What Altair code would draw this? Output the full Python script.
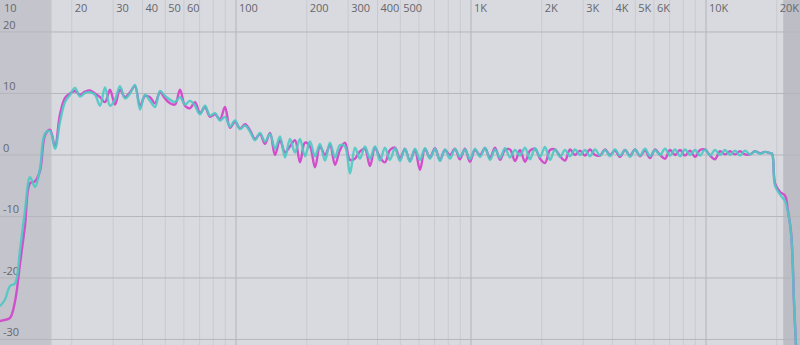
import altair as alt
import pandas as pd

# ---------------- data ----------------
FREQ = [9.90, 10.40, 10.92, 11.47, 12.04, 12.65, 13.29, 13.95, 14.65, 15.39,
        16.16, 16.97, 17.82, 18.72, 19.66, 20.64, 21.68, 22.77, 23.91, 25.11,
        26.38, 27.70, 29.09, 30.55, 32.08, 33.70, 35.39, 37.16, 39.03, 40.99,
        43.05, 45.21, 47.48, 49.86, 52.37, 55.00, 57.76, 60.66, 63.71, 66.90,
        70.27, 73.79, 77.50, 81.39, 85.47, 89.77, 94.28, 99.0, 104.0, 109.2,
        114.7, 120.4, 126.5, 132.8, 139.5, 146.5, 153.8, 161.6, 169.7, 178.2,
        187.1, 196.5, 206.4, 216.8, 227.6, 239.1, 251.1, 263.7, 276.9, 290.8,
        305.4, 320.7, 336.8, 353.7, 371.5, 390.1, 409.7, 430.3, 451.9, 474.6,
        498.4, 523.4, 549.7, 577.3, 606.3, 636.7, 668.7, 702.2, 737.5, 774.5,
        813.4, 854.2, 897.1, 942.1, 989.4, 1039, 1092, 1147, 1204, 1265,
        1329, 1395, 1465, 1539, 1616, 1697, 1782, 1872, 1966, 2064,
        2168, 2277, 2391, 2511, 2638, 2770, 2909, 3055, 3208, 3370,
        3539, 3716, 3903, 4099, 4305, 4521, 4748, 4986, 5237, 5500,
        5776, 6066, 6371, 6690, 7027, 7379, 7750, 8139, 8547, 8977,
        9428, 9900, 10400, 10920, 11470, 12040, 12650, 13290, 13950, 14650,
        15390, 16160, 16970, 17820, 18720,
        19100, 19660, 20640, 21680, 22300, 23000, 23400, 23650, 24150]

CYAN_DB = [-24.6, -23.5, -21.3, -20.9, -15.5, -9.0, -3.6, -5.2, -2.2, 3.5,
           3.9, 1.0, 5.4, 8.6, 9.8, 10.9, 9.5, 10.1, 10.2, 9.8,
           8.0, 11.0, 8.0, 9.0, 11.2, 9.2, 10.0, 11.4, 7.4, 9.8,
           8.8, 7.8, 10.4, 9.6, 9.0, 8.6, 9.4, 8.2, 8.8, 8.0,
           6.6, 8.0, 6.4, 6.8, 5.6, 6.2, 4.6, 5.6, 4.2, 4.8,
           3.8, 2.4, 3.6, 2.2, 3.4, 1.0, 3.0, -0.4, 2.6, 0.4,
           2.6, -0.2, 2.2, -0.2, 1.8, -0.9, 2.0, -0.4, 1.6, 1.4,
           -3.0, 1.2, -0.6, 1.4, -0.6, 1.4, -0.9, 1.2, -0.8, 1.1,
           -1.0, 1.0, -1.1, 1.0, -0.8, 1.1, -0.6, 1.0, -1.0, 0.9,
           -0.6, 1.0, -0.3, 0.9, -0.7, 1.0, -0.3, 1.2, -0.8, 0.9,
           -0.5, 1.1, -0.4, 0.8, -0.1, 1.2, -0.7, 1.1, -0.3, 1.3,
           -0.8, 0.9, -0.3, 0.8, -0.2, 0.9, 0.0, 0.8, -0.2, 0.9,
           -0.1, 0.8, -0.2, 0.9, -0.1, 0.8, -0.3, 0.9, -0.1, 1.0,
           -0.2, 0.8, 0.0, 1.0, -0.1, 0.9, -0.2, 0.9, 0.0, 0.8,
           -0.1, 0.9, -0.1, 0.8, 0.0, 0.8, 0.0, 0.7, -0.1, 0.7,
           0.1, 0.6, 0.2, 0.5, 0.3,
           0.2, -5.0, -6.4, -7.5, -9.2, -12.8, -18.0, -23.6, -31.0]

MAGENTA_DB = [-27.0, -26.8, -26.5, -23.8, -17.8, -11.5, -4.6, -4.3, -2.6, 3.2,
              4.1, 1.4, 6.6, 9.3, 10.0, 10.4, 9.8, 10.3, 10.5, 10.0,
              9.4, 8.6, 10.6, 8.2, 10.6, 9.4, 10.2, 11.2, 8.0, 9.6,
              9.4, 8.4, 10.2, 9.2, 8.4, 8.2, 10.6, 8.0, 7.6, 8.6,
              6.8, 7.8, 6.2, 6.6, 5.8, 7.8, 4.4, 5.4, 4.3, 5.0,
              4.0, 2.6, 3.4, 1.8, 3.6, 0.0, 2.4, 0.4, 1.4, 2.4,
              -1.2, 2.0, 1.4, -2.0, 1.4, 0.0, 1.6, -1.6, 0.8, 2.0,
              -0.8, -0.6, 0.6, 1.0, -1.8, 1.2, -0.4, -1.2, 0.8, 1.2,
              -0.6, 1.0, -1.0, 0.8, -2.4, 1.0, -0.4, 1.1, -0.8, 0.8,
              0.0, 1.0, -0.7, 1.0, -1.1, 0.8, 0.0, 1.1, -0.5, 1.2,
              -0.8, 0.8, 0.9, -1.0, 0.8, -1.1, 0.7, 1.0, -0.6, -1.3,
              0.8, 0.9, -0.2, -0.9, 0.9, 0.0, 0.7, -0.1, 0.9, 0.0,
              -0.1, 0.9, 0.0, 0.7, -0.3, 0.8, -0.1, 0.9, -0.2, 0.7,
              -0.5, 0.9, 0.0, -0.6, 0.8, 0.0, 0.8, -0.1, 0.7, -0.3,
              0.8, 0.9, -0.1, -0.7, 0.6, 0.1, 0.6, 0.1, 0.6, 0.1,
              0.1, 0.6, 0.3, 0.5, 0.3,
              0.2, -4.6, -6.0, -6.6, -9.0, -12.6, -18.0, -23.5, -31.0]

X_TICK_VALUES = [10, 20, 30, 40, 50, 60, 100, 200, 300, 400, 500,
                 1000, 2000, 3000, 4000, 5000, 6000, 10000, 20000]
X_TICK_LABELS = ["10", "20", "30", "40", "50", "60", "100", "200", "300", "400", "500",
                 "1K", "2K", "3K", "4K", "5K", "6K", "10K", "20K"]
MINOR_GRID = [20, 30, 40, 50, 60, 70, 80, 90,
              200, 300, 400, 500, 600, 700, 800, 900,
              2000, 3000, 4000, 5000, 6000, 7000, 8000, 9000, 20000]
MAJOR_GRID = [100, 1000, 10000]
Y_GRID = [20, 10, 0, -10, -20, -30]

SHADE_START = [9.9, 21300]
SHADE_END = [16.4, 25110]
SHADE_NAME = ["left", "right"]

# ---------------- styling ----------------
BG = "#d9dadf"
X_DOMAIN = [9.9, 25110]
Y_DOMAIN = [-30.9, 25.2]
xs = alt.Scale(type="log", domain=X_DOMAIN, nice=False)
ys = alt.Scale(domain=Y_DOMAIN, nice=False, zero=False)

shade_df = pd.DataFrame({"s": SHADE_START, "e": SHADE_END, "n": SHADE_NAME})
shade = alt.Chart(shade_df).mark_rect().encode(
    x=alt.X("s:Q", scale=xs, axis=None),
    x2="e:Q",
    y=alt.value(0),
    y2=alt.value(345),
    color=alt.Color("n:N", scale=alt.Scale(domain=SHADE_NAME, range=["#c4c4cc", "#bdbdc6"]), legend=None),
)

minor = alt.Chart(pd.DataFrame({"f": MINOR_GRID})).mark_rule(color="#c9cacf", strokeWidth=1).encode(
    x=alt.X("f:Q", scale=xs, axis=None))
major = alt.Chart(pd.DataFrame({"f": MAJOR_GRID})).mark_rule(color="#b3b4ba", strokeWidth=1).encode(
    x=alt.X("f:Q", scale=xs, axis=None))
hgrid = alt.Chart(pd.DataFrame({"d": Y_GRID})).mark_rule(color="#b5b6bc", strokeWidth=1).encode(
    y=alt.Y("d:Q", scale=ys, axis=None))

xlab = alt.Chart(pd.DataFrame({"f": X_TICK_VALUES, "t": X_TICK_LABELS})).mark_text(
    align="left", baseline="middle", dx=3, fontSize=11, font="Open Sans", color="#66676d"
).encode(x=alt.X("f:Q", scale=xs, axis=None), y=alt.value(9), text="t:N")

ylab = alt.Chart(pd.DataFrame({"d": Y_GRID, "t": [str(v) for v in Y_GRID]})).mark_text(
    align="left", baseline="bottom", dy=-1, fontSize=11, font="Open Sans", color="#66676d"
).encode(x=alt.value(3), y=alt.Y("d:Q", scale=ys, axis=None), text="t:N")

mag_df = pd.DataFrame({"f": FREQ, "db": MAGENTA_DB})
cyan_df = pd.DataFrame({"f": FREQ, "db": CYAN_DB})

mag = alt.Chart(mag_df).mark_line(color="#d24fcb", strokeWidth=2.4, interpolate="catmull-rom", clip=True).encode(
    x=alt.X("f:Q", scale=xs, axis=None), y=alt.Y("db:Q", scale=ys, axis=None))
cya = alt.Chart(cyan_df).mark_line(color="#4ec8c3", strokeWidth=2.4, interpolate="catmull-rom", clip=True,
                                   opacity=0.9).encode(
    x=alt.X("f:Q", scale=xs, axis=None), y=alt.Y("db:Q", scale=ys, axis=None))

chart = alt.layer(shade, minor, major, hgrid, xlab, ylab, mag, cya).properties(
    width=800, height=345, padding=0, background=BG,
    autosize=alt.AutoSizeParams(type="none"),
).configure_view(stroke=None, fill=BG)

chart.save("out.html", embed_options={"renderer": "svg", "actions": False})
